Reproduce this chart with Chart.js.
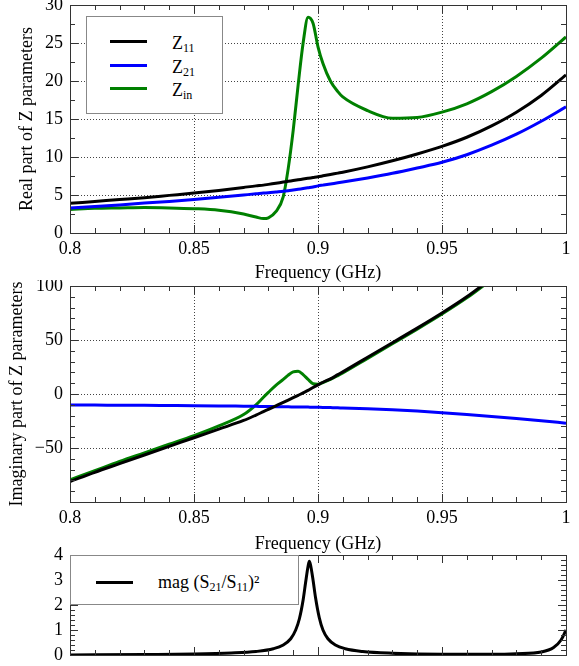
<!DOCTYPE html>
<html>
<head>
<meta charset="utf-8">
<script src="https://cdn.jsdelivr.net/npm/chart.js@4.4.0/dist/chart.umd.min.js"></script>
<style>
  body { margin: 0; background: #fff; width: 579px; height: 666px; overflow: hidden; position: relative; font-family: "Liberation Serif", "Times New Roman", serif; }
  canvas { position: absolute; left: 0; }
  .legend { position: absolute; background: #fff; border: 1px solid #888; box-sizing: border-box; }
  .sample { position: absolute; height: 3px; }
  .txt { position: absolute; font-size: 18px; line-height: 18px; white-space: nowrap; color: #000; }
  .txt sub { font-size: 12px; vertical-align: -3px; line-height: 0; }
</style>
</head>
<body>
<canvas id="re" width="579" height="284" style="top:0"></canvas>
<canvas id="im" width="579" height="275" style="top:280px"></canvas>
<canvas id="mag" width="579" height="126" style="top:540px"></canvas>
<div id="legTop" class="legend" style="left:86px;top:16px;width:137px;height:98px"></div>
<div id="legMag" class="legend" style="left:70px;top:555px;width:229px;height:50px"></div>

<script>
// frequency points (GHz) shared by the Z parameter curves
const freq = [0.80, 0.81, 0.82, 0.83, 0.84, 0.85, 0.86, 0.87, 0.875, 0.878, 0.88, 0.883, 0.886, 0.888, 0.89,
  0.892, 0.894, 0.896, 0.898, 0.90, 0.902, 0.905, 0.908, 0.91, 0.92, 0.93, 0.94, 0.95, 0.96, 0.97, 0.98, 0.99, 1.00];

// real part
const reZ11 = [3.9, 4.15, 4.4, 4.65, 4.95, 5.25, 5.6, 6.0, 6.2, 6.3, 6.4, 6.55, 6.7, 6.8, 6.9,
  7.0, 7.1, 7.2, 7.3, 7.4, 7.52, 7.7, 7.88, 8.0, 8.7, 9.5, 10.4, 11.4, 12.6, 14.1, 15.9, 18.1, 20.8];
const reZ21 = [3.3, 3.5, 3.7, 3.95, 4.15, 4.4, 4.7, 5.0, 5.15, 5.25, 5.3, 5.4, 5.5, 5.55, 5.65,
  5.75, 5.85, 5.95, 6.05, 6.2, 6.3, 6.45, 6.6, 6.7, 7.25, 7.85, 8.55, 9.3, 10.3, 11.55, 13.0, 14.7, 16.6];
const reZin = [3.1, 3.25, 3.3, 3.35, 3.3, 3.2, 3.0, 2.5, 2.1, 1.9, 2.0, 2.8, 4.8, 8.5, 13.5,
  19.5, 25, 28.4, 27.6, 24.5, 22.3, 20.0, 18.6, 17.9, 16.1, 15.1, 15.2, 15.9, 17.0, 18.6, 20.6, 23.0, 25.8];

// imaginary part (null = off the top of the plot)
const imZ11 = [-81, -72.5, -64.5, -56.5, -48.5, -40.5, -32.5, -24.5, -19.5, -16.3, -14.2, -11, -7.8, -5.6, -3.4,
  -1.2, 1, 3.3, 6, 8.5, 10.9, 14, 17.9, 20.5, 34, 47.5, 61, 75, 90, 107, null, null, null];
const imZ21 = [-10.2, -10.3, -10.4, -10.5, -10.65, -10.8, -11.0, -11.3, -11.45, -11.55, -11.6, -11.7, -11.8, -11.9, -11.95,
  -12.0, -12.1, -12.15, -12.2, -12.3, -12.4, -12.6, -12.8, -12.9, -13.6, -14.6, -15.8, -17.3, -19, -20.8, -22.7, -24.8, -27];
const imZin = [-79.5, -71, -62.5, -54.5, -46.5, -38.5, -29.5, -19, -10, -3, 1.5, 8, 13.5, 17.5, 20.5,
  21, 18, 13.5, 9.5, 9, 10.6, 13.5, 17, 19.5, 33, 46.5, 60, 74, 89, 106, null, null, null];

// mag (S21/S11)^2
const magFreq = [0.80, 0.83, 0.85, 0.865, 0.875, 0.882, 0.886, 0.889, 0.891, 0.8925, 0.894, 0.895, 0.896, 0.8965,
  0.897, 0.898, 0.899, 0.9005, 0.902, 0.904, 0.907, 0.911, 0.918, 0.93, 0.95, 0.97, 0.98, 0.99, 0.995, 0.998, 1.0];
const magVal = [0.0, 0.02, 0.04, 0.08, 0.14, 0.25, 0.4, 0.65, 1.0, 1.45, 2.2, 2.9, 3.55, 3.75,
  3.6, 3.0, 2.3, 1.5, 1.0, 0.65, 0.4, 0.25, 0.14, 0.07, 0.03, 0.03, 0.05, 0.12, 0.3, 0.6, 1.0];

const zNames = ['Z', 'Z', 'Z'];
const zSubs = ['11', '21', 'in'];
const zColors = ['#000000', '#0000ff', '#008000'];

Chart.defaults.font.family = '"Liberation Serif", "Times New Roman", serif';
Chart.defaults.font.size = 18;
Chart.defaults.color = '#000';

const pts = (xs, ys) => xs.map((x, i) => ({ x: x, y: ys[i] }));

// dotted grid, box and inward ticks, all painted as 1px filled rects
const frameTicks = {
  id: 'frameTicks',
  beforeDatasetsDraw(chart, args, opts) {
    if (!opts.grid) return;
    const { ctx, chartArea: a } = chart;
    const x = chart.scales.x, y = chart.scales.y;
    const L = Math.round(a.left), R = Math.round(a.right), T = Math.round(a.top), B = Math.round(a.bottom);
    ctx.save();
    ctx.fillStyle = '#444';
    x.ticks.slice(1, -1).forEach((t) => {
      const px = Math.round(x.getPixelForValue(t.value));
      for (let py = T + 2; py < B; py += 3) ctx.fillRect(px, py, 1, 1);
    });
    y.ticks.slice(1, -1).forEach((t) => {
      const py = Math.round(y.getPixelForValue(t.value));
      for (let px = L + 2; px < R; px += 3) ctx.fillRect(px, py, 1, 1);
    });
    ctx.restore();
  },
  afterDraw(chart, args, opts) {
    const { ctx, chartArea: a } = chart;
    const x = chart.scales.x, y = chart.scales.y;
    const L = Math.round(a.left), R = Math.round(a.right), T = Math.round(a.top), B = Math.round(a.bottom);
    ctx.save();
    ctx.fillStyle = '#333';
    const nx = Math.round((x.max - x.min) / opts.xMinor);
    for (let i = 0; i <= nx; i++) {
      const px = Math.round(x.getPixelForValue(x.min + i * opts.xMinor));
      const len = i % opts.xEvery === 0 ? 8 : 5;
      ctx.fillRect(px, B - len, 1, len);
      ctx.fillRect(px, T, 1, len);
    }
    const ny = Math.round((y.max - y.min) / opts.yMinor);
    for (let i = 0; i <= ny; i++) {
      const py = Math.round(y.getPixelForValue(y.min + i * opts.yMinor));
      const len = i % opts.yEvery === 0 ? 8 : 5;
      ctx.fillRect(L, py, len, 1);
      ctx.fillRect(R - len, py, len, 1);
    }
    ctx.fillRect(L, T, R - L + 1, 1);
    ctx.fillRect(L, B, R - L + 1, 1);
    ctx.fillRect(L, T, 1, B - T + 1);
    ctx.fillRect(R, T, 1, B - T + 1);
    ctx.restore();
  }
};

function makeChart(id, datasets, o) {
  return new Chart(document.getElementById(id), {
    type: 'line',
    data: { datasets: datasets },
    plugins: [frameTicks],
    options: {
      responsive: false,
      animation: false,
      devicePixelRatio: 1,
      layout: { padding: { left: 0, right: 13, top: o.padTop, bottom: 0 } },
      elements: { point: { radius: 0 }, line: { borderWidth: 3, cubicInterpolationMode: 'monotone' } },
      plugins: {
        legend: { display: false },
        tooltip: { enabled: false },
        frameTicks: o.marks
      },
      scales: {
        x: {
          type: 'linear', min: 0.8, max: 1.0,
          afterFit: (s) => { s.height = o.xHeight; s.paddingLeft = 0; s.paddingRight = 0; },
          grid: { display: false, drawTicks: false },
          border: { display: false },
          ticks: {
            display: o.xLabels, stepSize: 0.05, padding: 5, maxRotation: 0,
            callback: (v) => String(+v.toFixed(2))
          },
          title: { display: o.xLabels, text: 'Frequency (GHz)', padding: { top: 0, bottom: 0 }, font: { size: 18 } }
        },
        y: {
          min: o.yMin, max: o.yMax,
          afterFit: (s) => { s.width = 70; s.paddingTop = 0; s.paddingBottom = 0; },
          grid: { display: false, drawTicks: false },
          border: { display: false },
          ticks: { stepSize: o.yStep, padding: 7, callback: o.yFmt },
          title: { display: !!o.yTitle, text: o.yTitle, padding: { top: o.yTitlePad, bottom: 0 }, font: { size: 18 } }
        }
      }
    }
  });
}

makeChart('re', [
  { data: pts(freq, reZ11), borderColor: zColors[0] },
  { data: pts(freq, reZ21), borderColor: zColors[1] },
  { data: pts(freq, reZin), borderColor: zColors[2] }
], {
  padTop: 5, xHeight: 51, xLabels: true,
  yMin: 0, yMax: 30, yStep: 5, yTitle: 'Real part of Z parameters', yTitlePad: 16,
  yFmt: (v) => String(v),
  marks: { grid: true, xMinor: 0.01, xEvery: 5, yMinor: 2.5, yEvery: 2 }
});

makeChart('im', [
  { data: pts(freq, imZ11), borderColor: zColors[0] },
  { data: pts(freq, imZ21), borderColor: zColors[1] },
  { data: pts(freq, imZin), borderColor: zColors[2] }
], {
  padTop: 6, xHeight: 53, xLabels: true,
  yMin: -100, yMax: 100, yStep: 50, yTitle: 'Imaginary part of Z parameters', yTitlePad: 6,
  yFmt: (v) => v === -100 ? '' : (v < 0 ? '\u2212' + Math.abs(v) : String(v)),
  marks: { grid: true, xMinor: 0.01, xEvery: 5, yMinor: 10, yEvery: 5 }
});

makeChart('mag', [
  { data: pts(magFreq, magVal), borderColor: '#000000' }
], {
  padTop: 15, xHeight: 11, xLabels: false,
  yMin: 0, yMax: 4, yStep: 1, yTitle: '', yTitlePad: 0,
  yFmt: (v) => String(v),
  marks: { grid: false, xMinor: 0.01, xEvery: 5, yMinor: 0.2, yEvery: 5 }
});

// legends (HTML so the subscripts are real text)
const legTop = document.getElementById('legTop');
const rowY = [24, 48, 71];
zNames.forEach((name, i) => {
  const s = document.createElement('div');
  s.className = 'sample';
  s.style.cssText = 'left:23px;width:37px;top:' + (rowY[i] - 1.5) + 'px;background:' + zColors[i];
  legTop.appendChild(s);
  const t = document.createElement('div');
  t.className = 'txt';
  t.style.cssText = 'left:85px;top:' + (rowY[i] - 6.6) + 'px';
  t.innerHTML = name + '<sub>' + zSubs[i] + '</sub>';
  legTop.appendChild(t);
});

const legMag = document.getElementById('legMag');
const ms = document.createElement('div');
ms.className = 'sample';
ms.style.cssText = 'left:25px;width:37px;top:24.5px;background:#000';
legMag.appendChild(ms);
const mt = document.createElement('div');
mt.className = 'txt';
mt.style.cssText = 'left:87px;top:17px';
mt.innerHTML = 'mag (S<sub>21</sub>/S<sub>11</sub>)\u00b2';
legMag.appendChild(mt);
</script>
</body>
</html>
